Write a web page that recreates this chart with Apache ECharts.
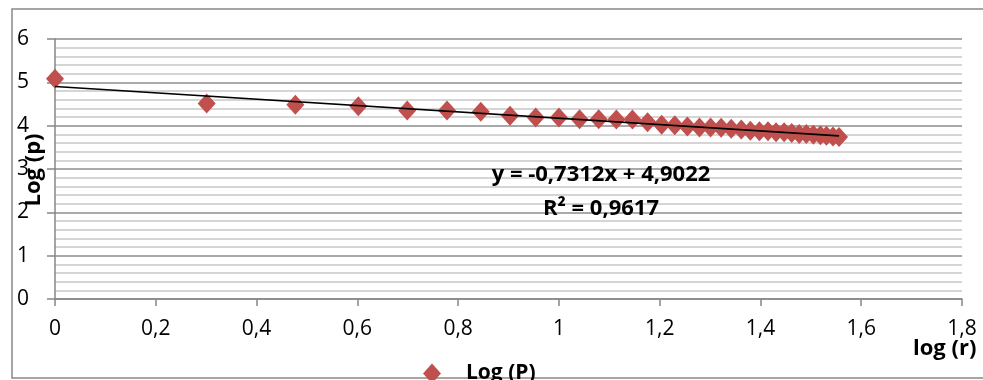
<!DOCTYPE html>
<html>
<head>
<meta charset="utf-8">
<script src="https://cdn.jsdelivr.net/npm/echarts@6/dist/echarts.min.js"></script>
<style>
html,body{margin:0;padding:0;background:#fff;}
#chart{width:983px;height:380px;}
</style>
</head>
<body>
<div id="chart"></div>
<script>
// log(r) for r = 1..36
const logR = [0, 0.301, 0.477, 0.602, 0.699, 0.778, 0.845, 0.903, 0.954, 1.0,
  1.041, 1.079, 1.114, 1.146, 1.176, 1.204, 1.230, 1.255, 1.279, 1.301,
  1.322, 1.342, 1.362, 1.380, 1.398, 1.415, 1.431, 1.447, 1.462, 1.477,
  1.491, 1.505, 1.519, 1.531, 1.544, 1.556];
// Log (P) values
const logP = [5.08, 4.51, 4.48, 4.45, 4.35, 4.35, 4.32, 4.23, 4.19, 4.19,
  4.15, 4.15, 4.14, 4.14, 4.08, 4.02, 4.01, 3.98, 3.96, 3.96,
  3.95, 3.93, 3.91, 3.88, 3.87, 3.87, 3.85, 3.85, 3.83, 3.81,
  3.81, 3.79, 3.78, 3.77, 3.75, 3.74];
// Linear trendline endpoints (y = -0.7312x + 4.9022)
const trendX = [0, 1.556];
const trendY = [4.9022, 3.7644];
const seriesName = 'Log (P)';
const eqText = 'y = -0,7312x + 4,9022';
const r2Text = 'R² = 0,9617';
const xTitle = 'log (r)';
const yTitle = 'Log (p)';

const FONT = '"Open Sans", sans-serif';
const chart = echarts.init(document.getElementById('chart'), null, {renderer: 'canvas'});
const fmt = v => String(+(+v).toFixed(1)).replace('.', ',');

chart.setOption({
  animation: false,
  backgroundColor: '#ffffff',
  grid: {left: 55, right: 21, top: 39, bottom: 81, containLabel: false, outerBoundsMode: 'none'},
  xAxis: {
    type: 'value', min: 0, max: 1.8, interval: 0.2,
    axisLine: {show: true, onZero: false, lineStyle: {color: '#868686', width: 1.5}},
    axisTick: {show: true, length: 7, lineStyle: {color: '#868686', width: 1.5}},
    axisLabel: {margin: 20, fontFamily: FONT, fontSize: 21, color: '#000', formatter: fmt},
    splitLine: {show: false}
  },
  yAxis: {
    type: 'value', min: 0, max: 6, interval: 1,
    axisLine: {show: true, onZero: false, lineStyle: {color: '#868686', width: 1.5}},
    axisTick: {show: true, length: 8, lineStyle: {color: '#868686', width: 1.5}},
    axisLabel: {margin: 26, fontFamily: FONT, fontSize: 21, color: '#000', formatter: fmt},
    splitLine: {show: true, lineStyle: {color: '#8c8c8c', width: 1.5}},
    minorTick: {show: false, splitNumber: 5},
    minorSplitLine: {show: true, lineStyle: {color: '#c8c8c8', width: 1.5}}
  },
  legend: {
    data: [seriesName], left: 423, top: 363, icon: 'diamond',
    itemWidth: 18, itemHeight: 20, padding: 0,
    textStyle: {fontFamily: FONT, fontSize: 21, fontWeight: 'bold', color: '#000', padding: [0, 0, 0, 20]}
  },
  series: [
    {
      name: seriesName, type: 'scatter', symbol: 'diamond', symbolSize: [18, 20],
      itemStyle: {color: '#c0504d', opacity: 1}, z: 2,
      data: logR.map((x, i) => [x, logP[i]])
    },
    {
      name: 'trend', type: 'line', symbol: 'none', z: 3,
      lineStyle: {color: '#000', width: 1.6}, silent: true,
      data: trendX.map((x, i) => [x, trendY[i]])
    }
  ],
  graphic: [
    {type: 'rect', shape: {x: 12, y: 9, width: 1000, height: 369}, style: {fill: 'none', stroke: '#888', lineWidth: 1.5}, z: 0},
    {type: 'text', x: 601, y: 175, style: {text: eqText, font: 'bold 22px ' + FONT, fill: '#000', textAlign: 'center', textVerticalAlign: 'middle'}, z: 10},
    {type: 'text', x: 601, y: 209, style: {text: r2Text, font: 'bold 22px ' + FONT, fill: '#000', textAlign: 'center', textVerticalAlign: 'middle'}, z: 10},
    {type: 'text', x: 913, y: 349, style: {text: xTitle, font: 'bold 22px ' + FONT, fill: '#000', textAlign: 'left', textVerticalAlign: 'middle'}, z: 10},
    {type: 'text', x: 34, y: 170, rotation: Math.PI / 2, style: {text: yTitle, font: 'bold 22px ' + FONT, fill: '#000', textAlign: 'center', textVerticalAlign: 'middle'}, z: 10}
  ]
});
</script>
</body>
</html>
